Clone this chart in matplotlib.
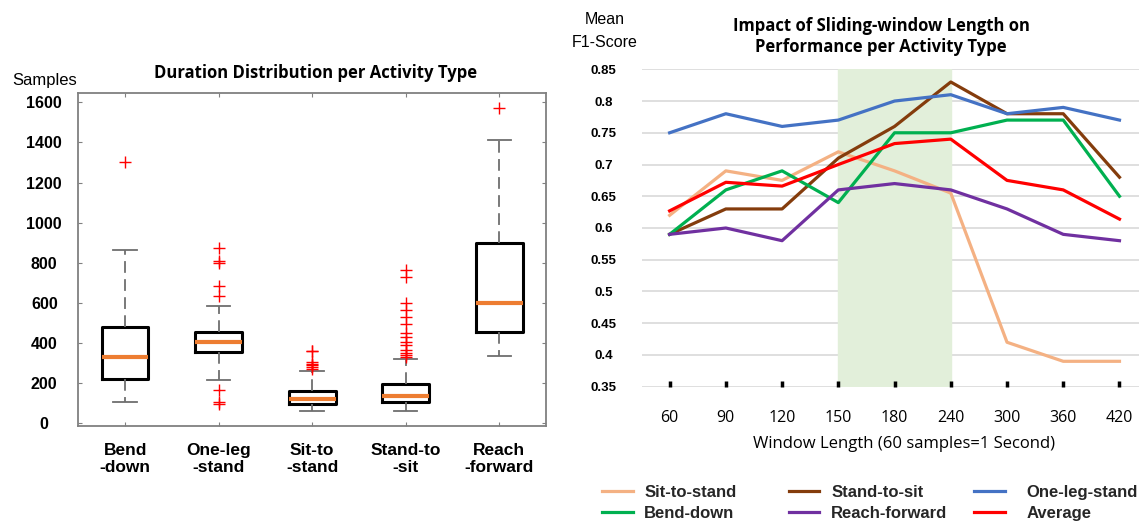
import matplotlib
matplotlib.use('Agg')
import matplotlib.pyplot as plt
import matplotlib.transforms as mtransforms

# --- left chart: duration distribution (box stats) ---
activities = ['Bend\n-down', 'One-leg\n-stand', 'Sit-to\n-stand', 'Stand-to\n-sit', 'Reach\n-forward']
medians = [330, 404, 120, 136, 600]
q1 = [221, 354, 95, 105, 457]
q3 = [479, 454, 163, 194, 899]
whislo = [105, 216, 59, 62, 336]
whishi = [864, 587, 263, 321, 1414]
fliers = [[1304],
          [876, 809, 801, 686, 636, 168, 108, 96],
          [362, 358, 304, 296, 290, 282, 272],
          [764, 731, 601, 565, 532, 493, 449, 432, 407, 390, 366, 352, 341, 332],
          [1570]]

# --- right chart: mean F1-score vs window length ---
windows = ['60', '90', '120', '150', '180', '240', '300', '360', '420']
sit_to_stand = [0.62, 0.69, 0.675, 0.72, 0.69, 0.655, 0.42, 0.39, 0.39]
stand_to_sit = [0.59, 0.63, 0.63, 0.71, 0.76, 0.83, 0.78, 0.78, 0.68]
one_leg_stand = [0.75, 0.78, 0.76, 0.77, 0.80, 0.81, 0.78, 0.79, 0.77]
bend_down = [0.59, 0.66, 0.69, 0.64, 0.75, 0.75, 0.77, 0.77, 0.65]
reach_forward = [0.59, 0.60, 0.58, 0.66, 0.67, 0.66, 0.63, 0.59, 0.58]
average = [0.627, 0.672, 0.666, 0.70, 0.733, 0.74, 0.675, 0.66, 0.614]
f1_ticks = [0.35, 0.4, 0.45, 0.5, 0.55, 0.6, 0.65, 0.7, 0.75, 0.8, 0.85]
f1_labels = ['0.35', '0.4', '0.45', '0.5', '0.55', '0.6', '0.65', '0.7', '0.75', '0.8', '0.85']

W, H = 1139, 523
fig = plt.figure(figsize=(W / 100, H / 100), dpi=100)

arial = 'Liberation Sans'
segoe = 'Open Sans'

# ---------------- left: box plot ----------------
ax1 = fig.add_axes([78.3 / W, 1 - 425.5 / H, 467.7 / W, 332.2 / H])
stats = []
for i in range(len(activities)):
    stats.append(dict(med=medians[i], q1=q1[i], q3=q3[i], whislo=whislo[i],
                      whishi=whishi[i], fliers=fliers[i]))
ax1.bxp(stats, positions=range(1, 6), widths=0.5, capwidths=0.25,
        boxprops=dict(color='black', linewidth=2.2),
        medianprops=dict(color='#ED7D31', linewidth=3),
        whiskerprops=dict(color='#6e6e6e', linewidth=1.3, linestyle=(0, (6.5, 3.5))),
        capprops=dict(color='#6e6e6e', linewidth=1.3),
        flierprops=dict(marker='+', markeredgecolor='red', markersize=8, markeredgewidth=1))
ax1.set_xlim(0.5, 5.5)
ax1.set_ylim(-11, 1645)
ax1.set_yticks(range(0, 1601, 200))
ax1.set_xticks(range(1, 6))
ax1.set_xticklabels(activities, fontfamily=arial, fontweight='bold', fontsize=12.5)
ax1.set_yticklabels([str(v) for v in range(0, 1601, 200)], fontfamily=arial,
                    fontweight='bold', fontsize=11.5)
for lbl in ax1.get_yticklabels():
    lbl.set_ha('center')
ax1.tick_params(axis='both', direction='in', length=3, color='#808080',
                top=True, right=True)
ax1.tick_params(axis='y', pad=24.5)
ax1.tick_params(axis='x', pad=12.5)
for sp in ax1.spines.values():
    sp.set_color('#808080')
    sp.set_linewidth(1.3)

fig.text(315.5 / W, 1 - 73.3 / H, 'Duration Distribution per Activity Type',
         ha='center', va='center', fontfamily=segoe, fontweight='bold', fontsize=12)
fig.text(44.5 / W, 1 - 80.5 / H, 'Samples', ha='center', va='center',
         fontfamily=arial, fontsize=12)

# ---------------- right: line chart ----------------
ax2 = fig.add_axes([641.5 / W, 1 - 386.7 / H, 506.1 / W, 317.4 / H])
x = range(len(windows))
# gridlines first, then the highlighted window range on top of them
for v in f1_ticks:
    ax2.axhline(v, color='#d9d9d9', linewidth=1.2, zorder=0.5)
ax2.axvspan(3, 5, color='#e2efda', zorder=1)
lw = 2.3
l_sit, = ax2.plot(x, sit_to_stand, color='#F4B183', lw=lw, label='Sit-to-stand', zorder=3)
l_stand, = ax2.plot(x, stand_to_sit, color='#843C0C', lw=lw, label='Stand-to-sit', zorder=3)
l_one, = ax2.plot(x, one_leg_stand, color='#4472C4', lw=lw, label='One-leg-stand', zorder=3)
l_bend, = ax2.plot(x, bend_down, color='#00B050', lw=lw, label='Bend-down', zorder=3)
l_reach, = ax2.plot(x, reach_forward, color='#7030A0', lw=lw, label='Reach-forward', zorder=3)
l_avg, = ax2.plot(x, average, color='#FF0000', lw=lw, label='Average', zorder=3)

ax2.set_xlim(-0.5, 8.5)
ax2.set_ylim(0.35, 0.85)
ax2.set_yticks(f1_ticks)
ax2.set_yticklabels(f1_labels, fontfamily=arial, fontweight='bold', fontsize=9.5)
shift = mtransforms.ScaledTranslation(0, 3 / 72, fig.dpi_scale_trans)
for lbl in ax2.get_yticklabels():
    lbl.set_ha('center')
    lbl.set_transform(lbl.get_transform() + shift)
ax2.set_xticks(list(x))
ax2.set_xticklabels(windows, fontfamily=segoe, fontsize=11.5)
ax2.tick_params(axis='y', length=0, pad=27.4)
ax2.tick_params(axis='x', direction='in', length=4, width=2.5, color='black', pad=17)
for sp in ax2.spines.values():
    sp.set_visible(False)

ax2.set_xlabel('Window Length (60 samples=1 Second)', fontfamily=segoe, fontsize=12)
ax2.xaxis.set_label_coords((904.4 - 641.5) / 506.1, -(436.0 - 386.7) / 317.4)

fig.text(881 / W, 1 - 36.5 / H,
         'Impact of Sliding-window Length on\nPerformance per Activity Type',
         ha='center', va='center', fontfamily=segoe, fontweight='bold', fontsize=12,
         linespacing=1.15)
fig.text(605 / W, 1 - 20 / H, 'Mean', ha='center', va='center', fontfamily=arial, fontsize=11.5)
fig.text(605 / W, 1 - 42.7 / H, 'F1-Score', ha='center', va='center', fontfamily=arial,
         fontsize=11.5)

# legend: three columns placed where the reference puts them
legend_cols = [([l_sit, l_bend], 601.7, 0.7),
               ([l_stand, l_reach], 788.6, 0.7),
               ([l_one, l_avg], 974.0, 1.3)]
for hs, xpos, tpad in legend_cols:
    leg = fig.legend(handles=hs, labels=[h.get_label() for h in hs], ncol=1,
                     loc='upper left', bbox_to_anchor=(xpos / W, 1 - 485 / H),
                     frameon=False, prop={'family': arial, 'weight': 'bold', 'size': 12},
                     handlelength=1.85, handletextpad=tpad, labelspacing=0.35,
                     borderpad=0, borderaxespad=0, labelcolor='#262626')

fig.savefig('out.png', dpi=100)
